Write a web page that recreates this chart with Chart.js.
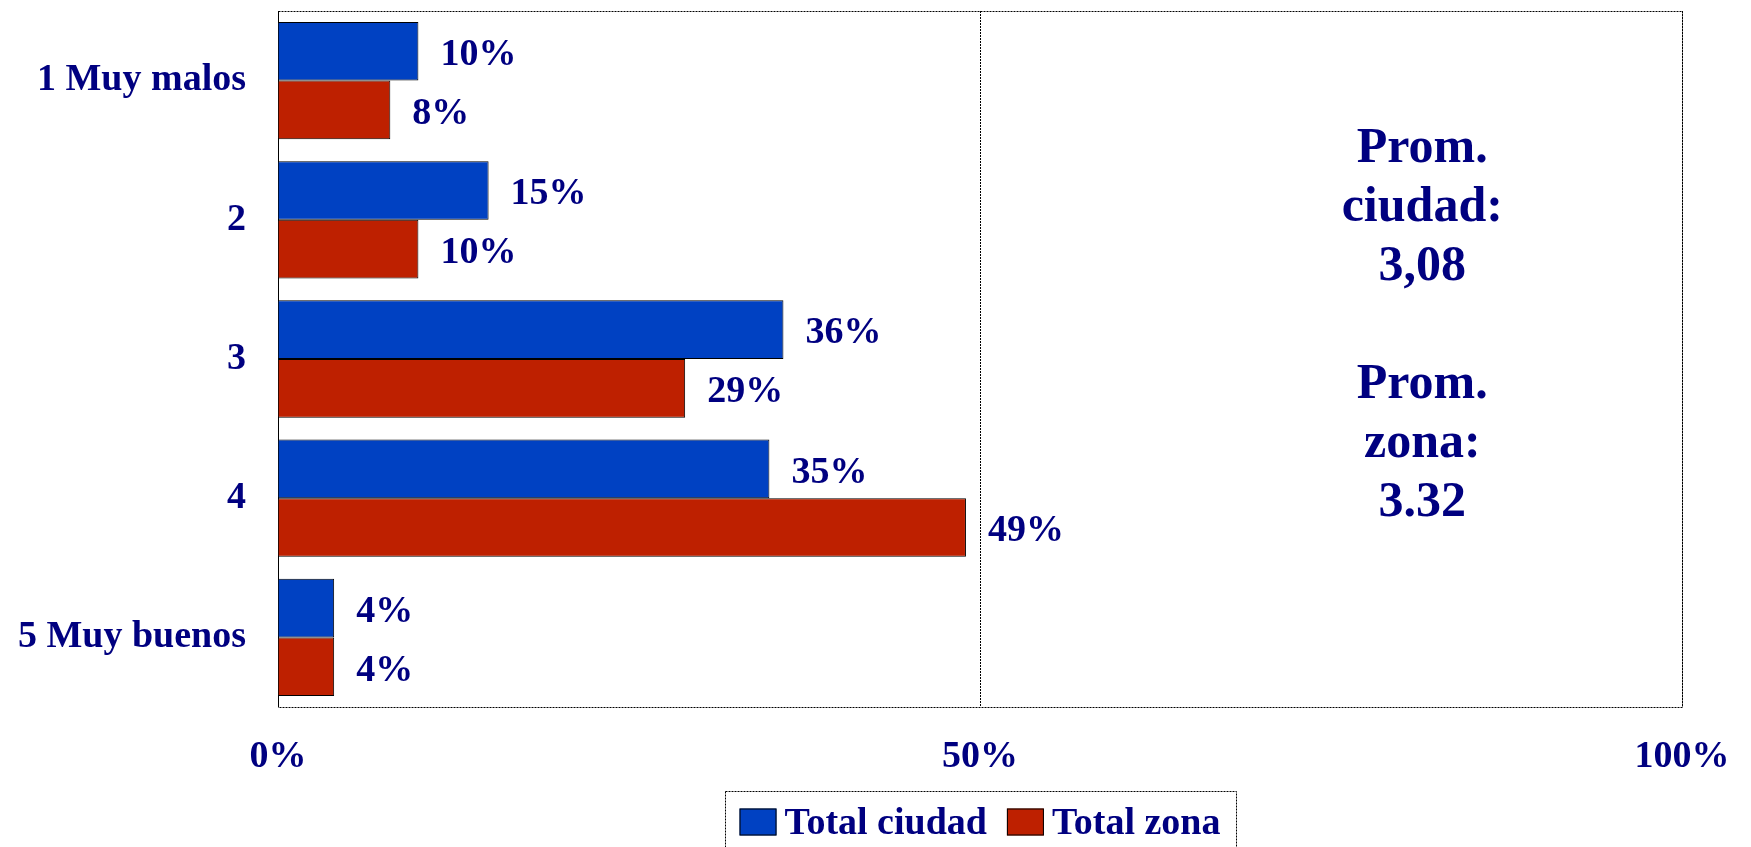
<!DOCTYPE html>
<html>
<head>
<meta charset="utf-8">
<script src="https://cdn.jsdelivr.net/npm/chart.js@4"></script>
<style>
html,body{margin:0;padding:0;background:#fff;}
</style>
</head>
<body>
<canvas id="chart" width="1751" height="847"></canvas>
<script>
const categories = ["1 Muy malos", "2", "3", "4", "5 Muy buenos"];
const totalCiudad = [10, 15, 36, 35, 4];
const totalZona = [8, 10, 29, 49, 4];
const xTicks = [0, 50, 100];
const notes = ["Prom.", "ciudad:", "3,08", "", "Prom.", "zona:", "3.32"];

const NAVY = "#000080";
const FONT = '"Liberation Serif", "Times New Roman", serif';

// frame around the plot area (dotted like the original)
const framePlugin = {
id: "frame",
beforeDatasetsDraw(chart){
const a = chart.chartArea, ctx = chart.ctx;
ctx.save();
ctx.strokeStyle = "#000";
ctx.lineWidth = 1;
ctx.setLineDash([2,1]);
ctx.strokeRect(a.left + 0.5, a.top + 0.5, a.right - a.left, a.bottom - a.top);
ctx.restore();
}
};

// value labels next to bar ends
const valueLabels = {
id: "valueLabels",
afterDatasetsDraw(chart){
const ctx = chart.ctx;
ctx.save();
ctx.font = "bold 38px " + FONT;
ctx.fillStyle = NAVY;
ctx.textAlign = "left";
ctx.textBaseline = "middle";
chart.data.datasets.forEach((ds,i)=>{
chart.getDatasetMeta(i).data.forEach((bar,j)=>{
ctx.fillText(ds.data[j] + "%", bar.x + 22, bar.y + 4);
});
});
ctx.restore();
}
};

// average text + legend box
const extras = {
id: "extras",
afterDraw(chart){
const ctx = chart.ctx, a = chart.chartArea;
ctx.save();
ctx.fillStyle = NAVY;
ctx.font = "bold 50px " + FONT;
ctx.textAlign = "center";
ctx.textBaseline = "middle";
const nx = chart.scales.x.getPixelForValue(81.5);
notes.forEach((t,i)=>{
if(t) ctx.fillText(t, nx, a.top + 138 + i*59);
});

// legend
ctx.font = "bold 38px " + FONT;
ctx.textAlign = "left";
const items = chart.data.datasets.map(d=>({label:d.label, color:d.backgroundColor, w:ctx.measureText(d.label).width}));
const boxW = 37, boxH = 27, gapTxt = 8, gapItem = 20, pad = 15;
let total = pad*2 + items.reduce((s,it)=>s + boxW + gapTxt + it.w, 0) + gapItem*(items.length-1);
const cx = (a.left + a.right)/2;
let x = cx - total/2;
const top = a.bottom + 84;
ctx.strokeStyle = "#000";
ctx.lineWidth = 1;
ctx.setLineDash([2,1]);
ctx.strokeRect(Math.round(x)+0.5, top+0.5, Math.round(total), 120);
ctx.setLineDash([]);
x += pad;
const cy = top + 31;
items.forEach(it=>{
ctx.fillStyle = it.color;
ctx.fillRect(x, cy - boxH/2, boxW, boxH);
ctx.strokeStyle = "#000";
ctx.strokeRect(x + 0.5, cy - boxH/2 + 0.5, boxW - 1, boxH - 1);
ctx.fillStyle = NAVY;
ctx.fillText(it.label, x + boxW + gapTxt, cy + 2);
x += boxW + gapTxt + it.w + gapItem;
});
ctx.restore();
}
};

new Chart(document.getElementById("chart"),{
type:"bar",
data:{
labels:categories,
datasets:[
{
label:"Total ciudad",
data:totalCiudad,
backgroundColor:"#0041C2",
borderColor:"#000",
borderWidth:1,
categoryPercentage:0.843,
barPercentage:1
},
{
label:"Total zona",
data:totalZona,
backgroundColor:"#BE2000",
borderColor:"#000",
borderWidth:1,
categoryPercentage:0.843,
barPercentage:1
}
]
},
options:{
indexAxis:"y",
responsive:false,
animation:false,
layout:{padding:{top:11,right:69,bottom:0,left:0}},
plugins:{
legend:{display:false},
tooltip:{enabled:false}
},
scales:{
x:{
min:0,
max:100,
afterBuildTicks:s=>{ s.ticks = xTicks.map(v=>({value:v})); },
afterFit:s=>{ s.height = 140; s.paddingLeft = 0; s.paddingRight = 0; },
grid:{color:"#000", lineWidth:1, drawTicks:false},
border:{display:false, dash:[2,1]},
ticks:{
padding:27,
color:NAVY,
font:{family:FONT, size:38, weight:"bold"},
callback:v=>v + "%",
maxRotation:0
}
},
y:{
afterFit:s=>{ s.width = 278; s.paddingTop = 0; s.paddingBottom = 0; },
grid:{display:false, drawTicks:false},
border:{display:false},
ticks:{
padding:32,
color:NAVY,
font:{family:FONT, size:38, weight:"bold"}
}
}
}
},
plugins:[framePlugin, valueLabels, extras]
});
</script>
</body>
</html>
